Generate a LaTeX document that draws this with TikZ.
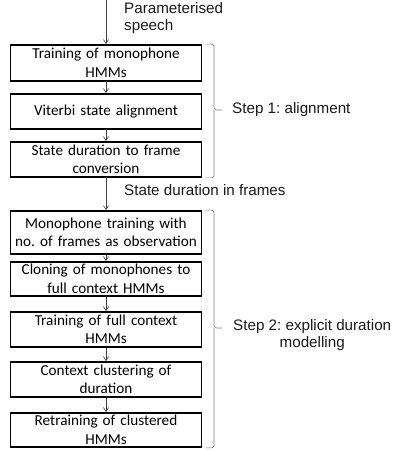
\documentclass[tikz,border=0pt]{standalone}
\usepackage{fontspec}
\setmainfont{Liberation Sans}
\newfontfamily\boxfont{Carlito}
\usetikzlibrary{arrows.meta}
\frenchspacing

\begin{document}
\begin{tikzpicture}[x=1pt, y=-1pt, >={Straight Barb[length=4pt,width=5pt]},
    stage/.style={draw, line width=1.7pt, text width=191pt, align=center,
        font=\boxfont\fontsize{15.2}{18.5}\selectfont, inner sep=0pt},
    flow/.style={->, semithick, black!75},
    grp/.style={semithick, black!50, rounded corners=2.5pt},
    lbl/.style={font=\fontsize{15.2}{17.5}\selectfont, text=black!90, inner sep=0pt}]
    \useasboundingbox (0,0) rectangle (392,452);

    % step 1
    \coordinate (in) at (106,0);
    \node[stage, minimum height=36pt] (mono) at (106,63) {Training of monophone\\HMMs};
    \node[stage, minimum height=35pt] (viterbi) at (106,111.5) {Viterbi state alignment};
    \node[stage, minimum height=35pt] (conv) at (106,159.5) {State duration to frame\\conversion};

    % step 2
    \node[stage, minimum height=43pt] (durmono) at (106,232.5) {Monophone training with\\no. of frames as observation};
    \node[stage, minimum height=34pt] (clone) at (106,279) {Cloning of monophones to\\full context HMMs};
    \node[stage, minimum height=35pt] (full) at (106,329.5) {Training of full context\\HMMs};
    \node[stage, minimum height=35pt] (clust) at (106,379.5) {Context clustering of\\duration};
    \node[stage, minimum height=34pt] (retrain) at (106,430) {Retraining of clustered\\HMMs};

    \draw[flow] (in) -- (mono);
    \draw[flow] (mono) -- (viterbi);
    \draw[flow] (viterbi) -- (conv);
    \draw[flow] (conv) -- (durmono);
    \draw[flow] (durmono) -- (clone);
    \draw[flow] (clone) -- (full);
    \draw[flow] (full) -- (clust);
    \draw[flow] (clust) -- (retrain);

    \node[lbl, anchor=west, align=left] (speech) at (124,18) {Parameterised\\speech};
    \node[lbl, anchor=west] (frames) at (124,190) {State duration in frames};

    % braces
    \coordinate (b1top) at ([xshift=3pt]mono.north east);
    \coordinate (b1bot) at ([xshift=3pt]conv.south east);
    \coordinate (b1tip) at (222,110);
    \coordinate (b1mid) at ([xshift=-8pt]b1tip);
    \draw[grp] (b1top) -| (b1mid) -- (b1tip);
    \draw[grp] (b1mid) |- (b1bot);
    \node[lbl, anchor=west] (step1) at ([xshift=10pt]b1tip) {Step 1: alignment};

    \coordinate (b2top) at ([xshift=3pt]durmono.north east);
    \coordinate (b2bot) at ([xshift=3pt]retrain.south east);
    \coordinate (b2tip) at (222,328);
    \coordinate (b2mid) at ([xshift=-8pt]b2tip);
    \draw[grp] (b2top) -| (b2mid) -- (b2tip);
    \draw[grp] (b2mid) |- (b2bot);
    \node[lbl, align=center, anchor=north west] (step2) at ([xshift=11pt, yshift=9pt]b2tip) {Step 2: explicit duration\\modelling};
\end{tikzpicture}
\end{document}
